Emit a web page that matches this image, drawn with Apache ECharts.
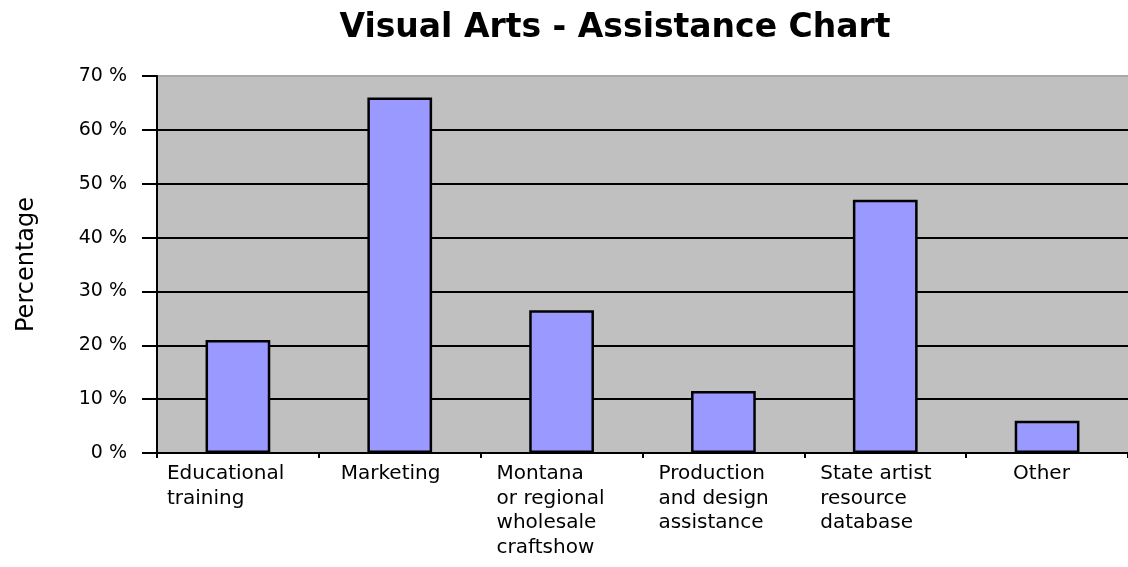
<!DOCTYPE html>
<html>
<head>
<meta charset="utf-8">
<script src="https://cdn.jsdelivr.net/npm/echarts@6/dist/echarts.min.js"></script>
<style>
  html, body { margin: 0; padding: 0; background: #fff; }
  #chart { width: 1128px; height: 567px; }
</style>
</head>
<body>
<div id="chart"></div>
<script>
// categories (lines of each label) and values in percent
const categories = [
  ["Educational", "training"],
  ["Marketing"],
  ["Montana", "or regional", "wholesale", "craftshow"],
  ["Production", "and design", "assistance"],
  ["State artist", "resource", "database"],
  ["Other"]
];
const values = [21, 66, 26.5, 11.5, 47, 6];

const chart = echarts.init(document.getElementById("chart"));

const labelWidths = [142, 118, 130, 130, 130, 68];

chart.setOption({
  animation: false,
  title: {
    text: "Visual Arts - Assistance Chart",
    left: 610,
    top: 7,
    textAlign: "center",
    textStyle: { fontFamily: "DejaVu Sans", fontWeight: "bold", fontSize: 33, color: "#000" }
  },
  grid: { left: 157, right: 0, top: 76, bottom: 114, show: true, backgroundColor: "#c0c0c0", borderColor: "#c0c0c0", borderWidth: 0 },
  xAxis: {
    type: "category",
    data: categories.map((c, i) => i),
    axisLine: { lineStyle: { color: "#000", width: 2 } },
    axisTick: { show: true, length: 5, lineStyle: { color: "#000", width: 2 } },
    axisLabel: {
      margin: 9,
      interval: 0,
      color: "#000",
      fontFamily: "DejaVu Sans",
      fontSize: 20,
      lineHeight: 24.5,
      verticalAlign: "top",
      formatter: (v) => {
        const i = Number(v);
        return categories[i].map(l => "{w" + i + "|" + l + "}").join("\n");
      },
      rich: Object.fromEntries(labelWidths.map((w, i) => ["w" + i, { width: w, align: "left", fontSize: 20, lineHeight: 24.5, fontFamily: "DejaVu Sans", color: "#000" }]))
    }
  },
  yAxis: {
    type: "value",
    min: 0,
    max: 70,
    interval: 10,
    name: "Percentage",
    nameLocation: "middle",
    nameGap: 118,
    nameTextStyle: { fontFamily: "DejaVu Sans", fontSize: 24, color: "#000" },
    axisLine: { show: true, lineStyle: { color: "#000", width: 2 } },
    axisTick: { show: true, length: 15, lineStyle: { color: "#000", width: 2 } },
    axisLabel: {
      margin: 30,
      color: "#000",
      fontFamily: "DejaVu Sans",
      fontSize: 19,
      formatter: (v) => v + " %"
    },
    splitLine: {
      show: true,
      lineStyle: { color: ["#000", "#000", "#000", "#000", "#000", "#000", "#000", "#a8a8a8"], width: 2 }
    }
  },
  series: [{
    type: "bar",
    data: values,
    barWidth: "40%",
    itemStyle: { color: "#9999ff", borderColor: "#000", borderWidth: 2.5 }
  }]
});
</script>
</body>
</html>
